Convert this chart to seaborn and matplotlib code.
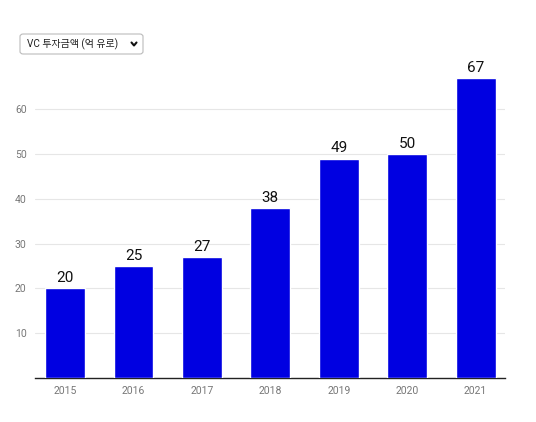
import matplotlib
matplotlib.use("Agg")
import matplotlib.pyplot as plt
import seaborn as sns
import pandas as pd
from matplotlib.patches import FancyBboxPatch
from matplotlib.lines import Line2D

years = ["2015", "2016", "2017", "2018", "2019", "2020", "2021"]
invest = [20, 25, 27, 38, 49, 50, 67]
yticks = [10, 20, 30, 40, 50, 60]
selector_label = "VC 투자금액 (억 유로)"

sns.set_theme(style="white")
plt.rcParams["font.family"] = ["Roboto", "Noto Sans CJK KR", "DejaVu Sans"]

df = pd.DataFrame({"year": years, "value": invest})

fig = plt.figure(figsize=(5.36, 4.22), dpi=100)
ax = fig.add_axes([0.0653, 0.1043, 0.8769, 0.7322])

sns.barplot(data=df, x="year", y="value", color="#0000e1", width=0.584,
            saturation=1, ax=ax, zorder=3)

for i, v in enumerate(invest):
    ax.text(i, v + 0.7, str(v), ha="center", va="bottom", fontsize=11,
            color="#111111")

ax.set_xlim(-0.44, 6.43)
ax.set_ylim(0, 69)
ax.set_yticks(yticks)
ax.yaxis.grid(True, color="#e6e6e6", linewidth=0.8, zorder=0)
ax.set_xlabel("")
ax.set_ylabel("")
ax.tick_params(axis="both", length=0, labelsize=7.5, labelcolor="#777777")
ax.tick_params(axis="y", pad=6)
ax.tick_params(axis="x", pad=6)
for side in ["top", "right", "left"]:
    ax.spines[side].set_visible(False)
ax.spines["bottom"].set_color("#222222")
ax.spines["bottom"].set_linewidth(1.0)

# dropdown selector
box = FancyBboxPatch((20 / 536, 1 - 54 / 422), 123 / 536, 20 / 422,
                     boxstyle="round,pad=0,rounding_size=0.006",
                     transform=fig.transFigure, facecolor="white",
                     edgecolor="#bbbbbb", linewidth=0.8)
fig.patches.append(box)
fig.text(27 / 536, 1 - 44 / 422, selector_label, fontsize=7.2, color="#222222",
         va="center", ha="left")
fig.lines.append(Line2D([131.5 / 536, 134 / 536, 136.5 / 536],
                        [1 - 42.5 / 422, 1 - 45.5 / 422, 1 - 42.5 / 422],
                        transform=fig.transFigure, color="#111111",
                        linewidth=1.5, solid_capstyle="round"))

fig.savefig("out.png", dpi=100)
